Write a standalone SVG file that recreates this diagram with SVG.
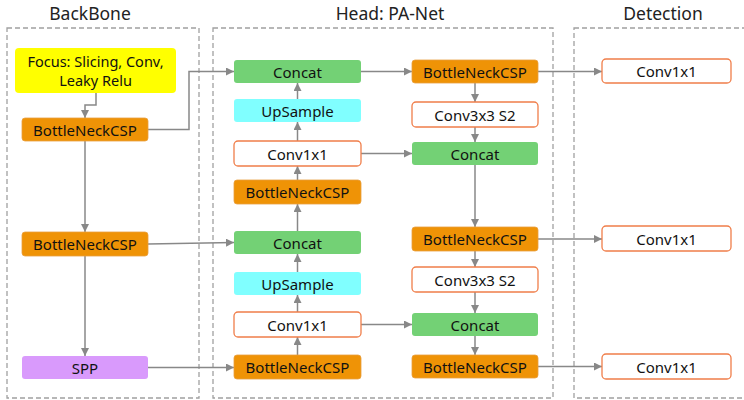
<svg xmlns="http://www.w3.org/2000/svg" width="744" height="400" viewBox="0 0 744 400">
<defs>
<marker id="arr" viewBox="0 0 10 10" refX="10" refY="5" markerWidth="8" markerHeight="8" markerUnits="userSpaceOnUse" orient="auto">
<path d="M0,0 L10,5 L0,10 z" fill="#888"/>
</marker>
<style>
.sec{fill:none;stroke:#a0a0a0;stroke-width:1.3;stroke-dasharray:5,3}
.title{font-family:"Noto Sans","Open Sans",sans-serif;font-size:17.5px;fill:#222;text-anchor:middle}
.t{font-family:"Noto Sans","Open Sans",sans-serif;font-size:15px;fill:#111;text-anchor:middle;dominant-baseline:central}
.ft{font-size:14.5px}
.bn{fill:#EF9306;stroke:#E8A040;stroke-width:0.8}
.cc{fill:#73D175}
.up{fill:#80FFFF}
.cv{fill:#fff;stroke:#F07E4A;stroke-width:1.3}
.spp{fill:#D99AFC}
.fo{fill:#FFFF00}
.c{fill:none;stroke:#888;stroke-width:1.5;marker-end:url(#arr)}
</style>
</defs>
<rect width="744" height="400" fill="#fff"/>
<g id="sections">
<rect class="sec" x="7" y="28" width="192" height="370"/>
<rect class="sec" x="213" y="28" width="340" height="370"/>
<rect class="sec" x="574" y="28" width="175" height="370"/>
<text class="title" x="90" y="20">BackBone</text>
<text class="title" x="390" y="20">Head: PA-Net</text>
<text class="title" x="663" y="20">Detection</text>
</g>
<g id="connectors">
<polyline class="c" points="96,93 96,105 85,105 85,118"/>
<polyline class="c" points="148,129.5 189,129.5 189,71.5 234,71.5"/>
<line class="c" x1="85" y1="141" x2="85" y2="232"/>
<line class="c" x1="85" y1="256" x2="85" y2="356"/>
<line class="c" x1="148" y1="244" x2="234" y2="242.5"/>
<line class="c" x1="148" y1="367.5" x2="234" y2="367.5"/>
<line class="c" x1="297.5" y1="180" x2="297.5" y2="166"/>
<line class="c" x1="297.5" y1="141" x2="297.5" y2="122"/>
<line class="c" x1="297.5" y1="99" x2="297.5" y2="83"/>
<line class="c" x1="297.5" y1="231" x2="297.5" y2="204"/>
<line class="c" x1="297.5" y1="272" x2="297.5" y2="254"/>
<line class="c" x1="297.5" y1="312" x2="297.5" y2="295"/>
<line class="c" x1="297.5" y1="355" x2="297.5" y2="337"/>
<line class="c" x1="361" y1="71.5" x2="412" y2="71.5"/>
<line class="c" x1="361" y1="153.5" x2="412" y2="153.5"/>
<line class="c" x1="361" y1="324.5" x2="412" y2="324.5"/>
<line class="c" x1="475" y1="83" x2="475" y2="102"/>
<line class="c" x1="475" y1="127" x2="475" y2="142"/>
<line class="c" x1="475" y1="165" x2="475" y2="227"/>
<line class="c" x1="475" y1="251" x2="475" y2="267"/>
<line class="c" x1="475" y1="292" x2="475" y2="313"/>
<line class="c" x1="475" y1="336" x2="475" y2="355"/>
<line class="c" x1="538" y1="71.5" x2="602" y2="71.5"/>
<line class="c" x1="538" y1="239" x2="602" y2="239"/>
<line class="c" x1="538" y1="366.5" x2="602" y2="366.5"/>
</g>
<g id="focus"><rect class="fo" x="15" y="48" width="161" height="45" rx="4"/><text class="t ft" x="95.5" y="61">Focus: Slicing, Conv,</text><text class="t ft" x="95.5" y="80">Leaky Relu</text></g>
<g id="bb_csp1"><rect class="bn" x="22" y="118" width="126" height="23" rx="3"/><text class="t" x="85" y="129.5">BottleNeckCSP</text></g>
<g id="bb_csp2"><rect class="bn" x="22" y="232" width="126" height="24" rx="3"/><text class="t" x="85" y="244">BottleNeckCSP</text></g>
<g id="spp"><rect class="spp" x="22" y="356" width="126" height="23" rx="3"/><text class="t" x="85" y="367.5">SPP</text></g>
<g id="h_concat1"><rect class="cc" x="234" y="60" width="127" height="23" rx="3"/><text class="t" x="297.5" y="71.5">Concat</text></g>
<g id="h_up1"><rect class="up" x="234" y="99" width="127" height="23" rx="3"/><text class="t" x="297.5" y="110.5">UpSample</text></g>
<g id="h_conv1"><rect class="cv" x="234" y="141" width="127" height="25" rx="4"/><text class="t" x="297.5" y="153.5">Conv1x1</text></g>
<g id="h_csp1"><rect class="bn" x="234" y="180" width="127" height="24" rx="3"/><text class="t" x="297.5" y="192">BottleNeckCSP</text></g>
<g id="h_concat2"><rect class="cc" x="234" y="231" width="127" height="23" rx="3"/><text class="t" x="297.5" y="242.5">Concat</text></g>
<g id="h_up2"><rect class="up" x="234" y="272" width="127" height="23" rx="3"/><text class="t" x="297.5" y="283.5">UpSample</text></g>
<g id="h_conv2"><rect class="cv" x="234" y="312" width="127" height="25" rx="4"/><text class="t" x="297.5" y="324.5">Conv1x1</text></g>
<g id="h_csp2"><rect class="bn" x="234" y="355" width="127" height="24" rx="3"/><text class="t" x="297.5" y="367">BottleNeckCSP</text></g>
<g id="p_csp1"><rect class="bn" x="412" y="60" width="126" height="23" rx="3"/><text class="t" x="475" y="71.5">BottleNeckCSP</text></g>
<g id="p_conv1"><rect class="cv" x="412" y="102" width="126" height="25" rx="4"/><text class="t" x="475" y="114.5">Conv3x3 S2</text></g>
<g id="p_concat1"><rect class="cc" x="412" y="142" width="126" height="23" rx="3"/><text class="t" x="475" y="153.5">Concat</text></g>
<g id="p_csp2"><rect class="bn" x="412" y="227" width="126" height="24" rx="3"/><text class="t" x="475" y="239">BottleNeckCSP</text></g>
<g id="p_conv2"><rect class="cv" x="412" y="267" width="126" height="25" rx="4"/><text class="t" x="475" y="279.5">Conv3x3 S2</text></g>
<g id="p_concat2"><rect class="cc" x="412" y="313" width="126" height="23" rx="3"/><text class="t" x="475" y="324.5">Concat</text></g>
<g id="p_csp3"><rect class="bn" x="412" y="355" width="126" height="23" rx="3"/><text class="t" x="475" y="366.5">BottleNeckCSP</text></g>
<g id="d_conv1"><rect class="cv" x="602" y="59" width="129" height="24" rx="4"/><text class="t" x="666.5" y="71">Conv1x1</text></g>
<g id="d_conv2"><rect class="cv" x="602" y="226" width="129" height="25" rx="4"/><text class="t" x="666.5" y="238.5">Conv1x1</text></g>
<g id="d_conv3"><rect class="cv" x="602" y="354" width="129" height="25" rx="4"/><text class="t" x="666.5" y="366.5">Conv1x1</text></g>
</svg>
